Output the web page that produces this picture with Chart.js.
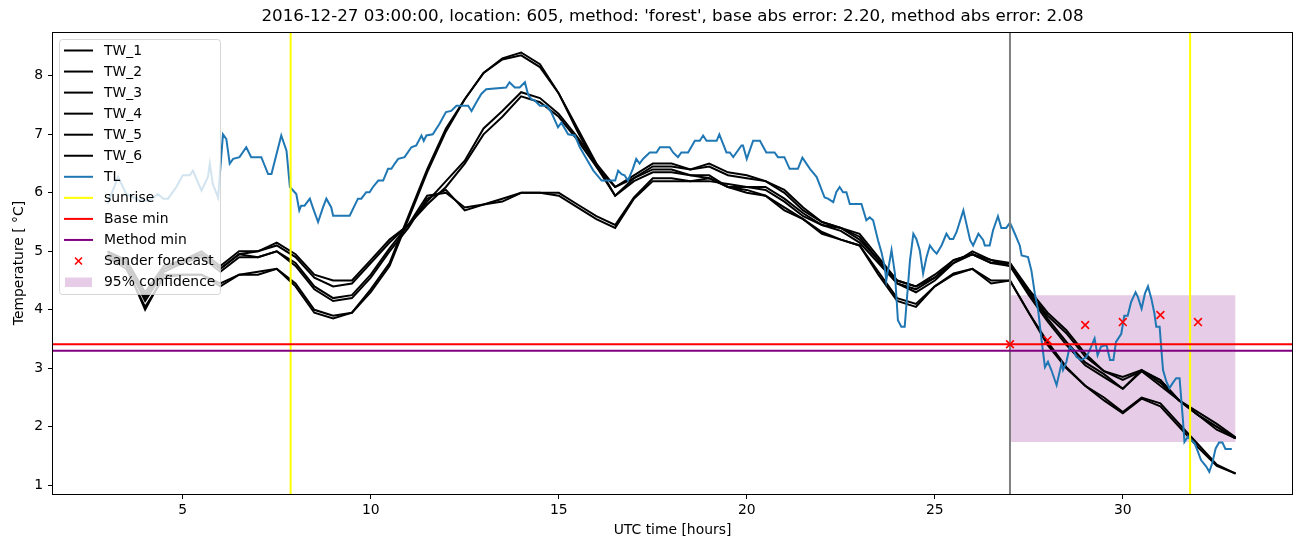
<!DOCTYPE html>
<html>
<head>
<meta charset="utf-8">
<script src="https://cdn.jsdelivr.net/npm/chart.js@4.4.0/dist/chart.umd.min.js"></script>
<style>
  html, body { margin: 0; padding: 0; background: #fff; }
  #wrap { width: 1302px; height: 547px; position: relative; }
</style>
</head>
<body>
<div id="wrap"><canvas id="chart"></canvas></div>
<script>
// ── Data ──────────────────────────────────────────────────────
const FONT = '"DejaVu Sans", Verdana, sans-serif';

const titleText = "2016-12-27 03:00:00, location: 605, method: 'forest', base abs error: 2.20, method abs error: 2.08";
const xLabel = 'UTC time [hours]';
const yLabel = 'Temperature [ °C]';

const xTicks = [5, 10, 15, 20, 25, 30];
const yTicks = [1, 2, 3, 4, 5, 6, 7, 8];
const xMin = 1.55, xMax = 34.5;
const yMin = 0.85, yMax = 8.75;

// half-hourly road temperature model runs (TW_1..TW_6)
const twHours = [3, 3.5, 4, 4.5, 5, 5.5, 6, 6.5, 7, 7.5, 8, 8.5, 9, 9.5, 10, 10.5, 11, 11.5, 12, 12.5,
  13, 13.5, 14, 14.5, 15, 15.5, 16, 16.5, 17, 17.5, 18, 18.5, 19, 19.5, 20, 20.5, 21, 21.5, 22, 22.5,
  23, 23.5, 24, 24.5, 25, 25.5, 26, 26.5, 27, 27.5, 28, 28.5, 29, 29.5, 30, 30.5, 31, 31.5, 32, 32.5, 33];

const tw1 = [4.95, 4.8, 4.2, 4.7, 4.8, 4.95, 4.7, 4.95, 4.9, 5.0, 4.8, 4.4, 4.2, 4.25, 4.6, 5.05, 5.45, 5.95, 6.0, 5.75,
  5.8, 5.85, 6.0, 6.0, 6.0, 5.8, 5.6, 5.45, 5.92, 6.25, 6.25, 6.2, 6.2, 6.15, 6.1, 6.1, 5.9, 5.65, 5.45, 5.4,
  5.2, 4.85, 4.45, 4.35, 4.55, 4.8, 5.0, 4.85, 4.75, 4.3, 3.85, 3.45, 3.1, 2.9, 2.65, 2.97, 2.75, 2.45, 2.2, 2.0, 1.8];
const tw2 = [4.9, 4.8, 4.15, 4.65, 4.8, 4.9, 4.65, 4.9, 4.9, 5.0, 4.75, 4.35, 4.15, 4.2, 4.55, 5.0, 5.4, 5.9, 6.05, 5.7,
  5.8, 5.9, 6.0, 6.0, 5.95, 5.75, 5.55, 5.4, 5.9, 6.2, 6.2, 6.2, 6.25, 6.1, 6.1, 6.05, 5.85, 5.6, 5.45, 5.35,
  5.15, 4.8, 4.45, 4.3, 4.5, 4.8, 4.95, 4.8, 4.75, 4.25, 3.8, 3.4, 3.05, 2.85, 2.65, 2.95, 2.7, 2.45, 2.2, 1.95, 1.8];
const tw3 = [5.0, 4.85, 4.3, 4.75, 4.85, 5.0, 4.75, 5.0, 5.0, 5.15, 4.95, 4.6, 4.5, 4.5, 4.85, 5.2, 5.45, 5.85, 6.2, 6.55,
  7.1, 7.4, 7.72, 7.62, 7.35, 6.95, 6.5, 6.1, 6.3, 6.5, 6.5, 6.4, 6.5, 6.35, 6.3, 6.2, 6.05, 5.75, 5.5, 5.4,
  5.3, 4.9, 4.5, 4.4, 4.6, 4.85, 4.95, 4.85, 4.8, 4.35, 3.95, 3.65, 3.25, 2.95, 2.85, 2.97, 2.8, 2.45, 2.25, 2.05, 1.82];
const tw4 = [5.0, 4.8, 4.25, 4.7, 4.85, 4.95, 4.7, 4.95, 5.0, 5.1, 4.9, 4.55, 4.4, 4.45, 4.8, 5.15, 5.45, 5.8, 6.1, 6.5,
  7.0, 7.3, 7.65, 7.55, 7.3, 6.9, 6.45, 6.1, 6.25, 6.45, 6.45, 6.4, 6.45, 6.3, 6.25, 6.2, 6.0, 5.7, 5.5, 5.4,
  5.25, 4.85, 4.5, 4.4, 4.55, 4.85, 4.95, 4.8, 4.8, 4.3, 3.9, 3.6, 3.2, 2.95, 2.8, 2.95, 2.8, 2.45, 2.2, 2.0, 1.8];
const tw5 = [4.9, 4.7, 4.05, 4.55, 4.6, 4.6, 4.45, 4.6, 4.65, 4.7, 4.45, 4.0, 3.9, 3.95, 4.3, 4.75, 5.55, 6.35, 7.05, 7.6,
  8.05, 8.28, 8.35, 8.15, 7.7, 7.1, 6.5, 5.95, 6.2, 6.35, 6.35, 6.3, 6.25, 6.1, 6.0, 5.95, 5.7, 5.55, 5.33, 5.2,
  5.1, 4.65, 4.2, 4.1, 4.4, 4.62, 4.7, 4.45, 4.5, 3.95, 3.45, 3.02, 2.7, 2.45, 2.23, 2.48, 2.35, 2.0, 1.65, 1.33, 1.2];
const tw6 = [4.9, 4.75, 4.0, 4.6, 4.6, 4.6, 4.4, 4.6, 4.6, 4.7, 4.4, 3.95, 3.85, 3.95, 4.35, 4.8, 5.6, 6.4, 7.1, 7.6,
  8.05, 8.3, 8.4, 8.2, 7.7, 7.05, 6.45, 5.95, 6.25, 6.4, 6.4, 6.3, 6.3, 6.1, 6.05, 5.95, 5.75, 5.55, 5.3, 5.2,
  5.1, 4.6, 4.15, 4.05, 4.4, 4.6, 4.7, 4.5, 4.5, 3.95, 3.4, 3.0, 2.7, 2.5, 2.25, 2.5, 2.4, 2.05, 1.7, 1.35, 1.2];

// air temperature TL, read at its turning points
const tlHours = [3.0, 3.28, 3.5, 3.86, 4.12, 4.34, 4.48, 4.61, 4.83, 5.0, 5.19, 5.27, 5.5, 5.67, 5.72, 5.8, 5.94,
  6.07, 6.16, 6.25, 6.34, 6.51, 6.69, 6.82, 7.09, 7.27, 7.36, 7.62, 7.76, 7.85, 8.02, 8.1, 8.15, 8.24, 8.38,
  8.47, 8.6, 8.73, 8.82, 8.95, 9.0, 9.44, 9.66, 9.75, 9.88, 9.97, 10.06, 10.2, 10.33, 10.46, 10.55, 10.64,
  10.73, 10.9, 11.08, 11.21, 11.35, 11.41, 11.48, 11.65, 11.83, 12.0, 12.14, 12.28, 12.59, 12.68, 12.81,
  12.94, 13.07, 13.6, 13.69, 13.83, 13.96, 14.1, 14.18, 14.27, 14.36, 14.5, 14.67, 14.8, 14.98, 15.07,
  15.25, 15.43, 15.56, 15.74, 15.92, 16.14, 16.5, 16.58, 16.67, 16.75, 16.84, 16.97, 17.06, 17.15, 17.24,
  17.42, 17.6, 17.69, 17.95, 18.04, 18.17, 18.26, 18.44, 18.62, 18.75, 18.84, 18.93, 19.2, 19.27, 19.46,
  19.55, 19.64, 19.86, 19.9, 20.0, 20.17, 20.35, 20.52, 20.74, 20.83, 21.0, 21.14, 21.36, 21.48, 21.68,
  21.86, 22.07, 22.16, 22.3, 22.38, 22.47, 22.56, 22.65, 22.74, 23.05, 23.18, 23.27, 23.36, 23.49, 23.58,
  23.67, 23.71, 23.85, 23.94, 24.02, 24.11, 24.2, 24.34, 24.43, 24.51, 24.6, 24.69, 24.78, 24.87, 24.96,
  25.05, 25.18, 25.31, 25.4, 25.49, 25.58, 25.76, 25.94, 26.02, 26.16, 26.29, 26.33, 26.46, 26.55, 26.68,
  26.77, 26.9, 27.0, 27.13, 27.26, 27.31, 27.48, 27.57, 27.66, 27.75, 27.84, 27.93, 28.01, 28.1, 28.24,
  28.37, 28.41, 28.5, 28.59, 28.68, 28.77, 28.9, 29.03, 29.12, 29.25, 29.33, 29.42, 29.51, 29.57, 29.66,
  29.75, 29.82, 29.96, 30.04, 30.13, 30.22, 30.34, 30.4, 30.5, 30.59, 30.67, 30.76, 30.84, 30.89, 30.98,
  31.02, 31.07, 31.16, 31.24, 31.33, 31.42, 31.51, 31.55, 31.6, 31.64, 31.73, 31.82, 31.91, 32.0, 32.08,
  32.22, 32.3, 32.38, 32.47, 32.56, 32.65, 32.73, 32.9];
const tlTemp = [5.81, 6.27, 5.98, 5.87, 5.87, 5.98, 5.9, 5.9, 6.1, 6.3, 6.3, 6.38, 6.04, 6.27, 6.5, 6.15, 5.92,
  7.0, 6.92, 6.5, 6.58, 6.61, 6.78, 6.61, 6.61, 6.32, 6.32, 6.98, 6.72, 6.1, 5.98, 5.7, 5.78, 5.78, 5.9,
  5.73, 5.5, 5.75, 5.9, 5.75, 5.61, 5.61, 5.9, 5.9, 6.01, 6.01, 6.1, 6.21, 6.21, 6.41, 6.41, 6.5,
  6.58, 6.61, 6.78, 6.81, 6.98, 6.89, 6.98, 7.0, 7.18, 7.38, 7.4, 7.49, 7.49, 7.4, 7.55,
  7.69, 7.77, 7.8, 7.89, 7.8, 7.8, 7.89, 7.69, 7.6, 7.58, 7.49, 7.49, 7.38, 7.12, 7.2,
  7.0, 6.98, 6.78, 6.58, 6.38, 6.21, 6.21, 6.38, 6.32, 6.3, 6.21, 6.41, 6.58, 6.5, 6.58,
  6.69, 6.69, 6.78, 6.78, 6.69, 6.61, 6.69, 6.69, 6.89, 6.89, 6.98, 6.89, 6.89, 7.0, 6.69,
  6.69, 6.61, 6.81, 6.81, 6.58, 6.89, 6.89, 6.69, 6.69, 6.61, 6.61, 6.41, 6.41, 6.6, 6.41,
  6.27, 5.92, 5.9, 5.84, 6.01, 6.1, 6.01, 6.01, 5.81, 5.81, 5.53, 5.58, 5.53, 5.19, 4.99,
  4.73, 4.5, 5.02, 4.62, 3.82, 3.71, 3.71, 4.84, 5.3, 5.21, 5.02, 4.62, 4.9, 5.1, 5.02,
  4.96, 5.1, 5.3, 5.21, 5.21, 5.33, 5.7, 5.19, 5.1, 5.3, 5.19, 5.1, 5.1, 5.36, 5.6,
  5.4, 5.4, 5.49, 5.3, 5.1, 4.93, 4.9, 4.67, 4.28, 3.99, 3.48, 3.02, 3.11, 2.97, 2.71,
  3.08, 2.97, 3.11, 3.37, 3.31, 3.19, 3.14, 3.19, 3.31, 3.51, 3.22, 3.37, 3.39, 3.39, 3.14,
  3.14, 3.45, 3.59, 3.9, 3.9, 4.13, 4.3, 4.22, 4.02, 4.28, 4.4, 4.19, 3.94, 3.71, 3.71,
  3.37, 2.97, 2.77, 2.66, 2.75, 2.83, 2.83, 2.51, 2.11, 1.74, 1.83, 1.77, 1.72, 1.57, 1.43,
  1.32, 1.23, 1.38, 1.63, 1.73, 1.73, 1.62, 1.62];

const sunriseHours = [7.87, 31.79];
const forecastStart = 27.0;
const baseMin = 3.41;
const methodMin = 3.30;

const sanderHours = [27, 28, 29, 30, 31, 32];
const sanderTemp = [3.41, 3.48, 3.74, 3.79, 3.91, 3.79];

const confHours = [27, 33];
const confLow = 1.74;
const confHigh = 4.25;

// ── Helpers ───────────────────────────────────────────────────
const pts = (xs, ys) => xs.map((x, i) => ({ x, y: ys[i] }));
const vline = x => [{ x, y: yMin }, { x, y: yMax }];
const hline = y => [{ x: xMin, y }, { x: xMax, y }];

const lineDs = (label, data, color, order) => ({
  label, data, order,
  borderColor: color,
  borderWidth: 2,
  pointRadius: 0,
  tension: 0,
  fill: false,
});

const datasets = [
  // confidence band, lowest layer
  { label: 'confLow', data: confHours.map(x => ({ x, y: confLow })), borderWidth: 0, pointRadius: 0, fill: false, order: 100 },
  { label: '95% confidence', data: confHours.map(x => ({ x, y: confHigh })), borderWidth: 0, pointRadius: 0,
    fill: '-1', backgroundColor: 'rgba(128,0,128,0.2)', order: 99 },
  lineDs('TW_1', pts(twHours, tw1), '#000000', 90),
  lineDs('TW_2', pts(twHours, tw2), '#000000', 89),
  lineDs('TW_3', pts(twHours, tw3), '#000000', 88),
  lineDs('TW_4', pts(twHours, tw4), '#000000', 87),
  lineDs('TW_5', pts(twHours, tw5), '#000000', 86),
  lineDs('TW_6', pts(twHours, tw6), '#000000', 85),
  lineDs('TL', pts(tlHours, tlTemp), '#1f77b4', 80),
  lineDs('sunrise', vline(sunriseHours[0]), '#ffff00', 70),
  lineDs('sunrise2', vline(sunriseHours[1]), '#ffff00', 70),
  lineDs('now', vline(forecastStart), '#808080', 69),
  lineDs('Base min', hline(baseMin), '#ff0000', 60),
  lineDs('Method min', hline(methodMin), '#800080', 59),
  {
    label: 'Sander forecast', data: pts(sanderHours, sanderTemp), order: 50,
    showLine: false, pointStyle: 'crossRot', pointRadius: 5.5,
    pointBorderColor: '#ff0000', pointBorderWidth: 1.6, pointBackgroundColor: '#ff0000',
  },
];

// ── Legend / frame / text overlay ─────────────────────────────
const legendItems = [
  { label: 'TW_1', kind: 'line', color: '#000000' },
  { label: 'TW_2', kind: 'line', color: '#000000' },
  { label: 'TW_3', kind: 'line', color: '#000000' },
  { label: 'TW_4', kind: 'line', color: '#000000' },
  { label: 'TW_5', kind: 'line', color: '#000000' },
  { label: 'TW_6', kind: 'line', color: '#000000' },
  { label: 'TL', kind: 'line', color: '#1f77b4' },
  { label: 'sunrise', kind: 'line', color: '#ffff00' },
  { label: 'Base min', kind: 'line', color: '#ff0000' },
  { label: 'Method min', kind: 'line', color: '#800080' },
  { label: 'Sander forecast', kind: 'cross', color: '#ff0000' },
  { label: '95% confidence', kind: 'patch', color: 'rgba(128,0,128,0.2)' },
];

function roundRect(ctx, x, y, w, h, r) {
  ctx.beginPath();
  ctx.moveTo(x + r, y);
  ctx.arcTo(x + w, y, x + w, y + h, r);
  ctx.arcTo(x + w, y + h, x, y + h, r);
  ctx.arcTo(x, y + h, x, y, r);
  ctx.arcTo(x, y, x + w, y, r);
  ctx.closePath();
}

const overlay = {
  id: 'overlay',
  afterDraw(chart) {
    const { ctx, chartArea: ca } = chart;
    ctx.save();

    // frame (all four spines)
    ctx.strokeStyle = '#000';
    ctx.lineWidth = 1;
    ctx.strokeRect(Math.round(ca.left) - 0.5, Math.round(ca.top) + 0.5,
      Math.round(ca.right - ca.left) + 1, Math.round(ca.bottom - ca.top));

    // legend
    roundRect(ctx, 59.5, 39.5, 161, 255, 3);
    ctx.fillStyle = 'rgba(255,255,255,0.8)';
    ctx.fill();
    ctx.strokeStyle = 'rgba(204,204,204,0.8)';
    ctx.lineWidth = 1;
    ctx.stroke();

    ctx.font = '13.9px ' + FONT;
    ctx.textBaseline = 'middle';
    ctx.textAlign = 'left';
    legendItems.forEach((it, i) => {
      const y = 50.5 + i * 21.05;
      if (it.kind === 'line') {
        ctx.strokeStyle = it.color;
        ctx.lineWidth = 2;
        ctx.beginPath();
        ctx.moveTo(64, y);
        ctx.lineTo(93, y);
        ctx.stroke();
      } else if (it.kind === 'cross') {
        ctx.strokeStyle = it.color;
        ctx.lineWidth = 1.6;
        ctx.beginPath();
        ctx.moveTo(75, y - 3.5); ctx.lineTo(82, y + 3.5);
        ctx.moveTo(75, y + 3.5); ctx.lineTo(82, y - 3.5);
        ctx.stroke();
      } else {
        ctx.fillStyle = it.color;
        ctx.fillRect(65, y - 4.5, 27, 9.5);
      }
      ctx.fillStyle = '#000';
      ctx.fillText(it.label, 104, y + 0.5);
    });

    // title and axis labels
    ctx.fillStyle = '#000';
    ctx.textAlign = 'center';
    ctx.font = '16.7px ' + FONT;
    ctx.fillText(titleText, (ca.left + ca.right) / 2, 17);
    ctx.font = '13.9px ' + FONT;
    ctx.fillText(xLabel, (ca.left + ca.right) / 2, 530);
    ctx.translate(19, (ca.top + ca.bottom) / 2);
    ctx.rotate(-Math.PI / 2);
    ctx.fillText(yLabel, 0, 0);
    ctx.restore();
  }
};

// ── Chart ─────────────────────────────────────────────────────
const tickFont = { size: 13.9, family: FONT };

new Chart(document.getElementById('chart').getContext('2d'), {
  type: 'line',
  data: { datasets },
  plugins: [overlay],
  options: {
    responsive: true,
    maintainAspectRatio: false,
    devicePixelRatio: 1,
    animation: false,
    events: [],
    layout: { padding: { top: 32, right: 10, bottom: 0, left: 0 } },
    plugins: {
      legend: { display: false },
      title: { display: false },
      tooltip: { enabled: false },
    },
    scales: {
      x: {
        type: 'linear',
        min: xMin, max: xMax,
        afterBuildTicks: s => { s.ticks = xTicks.map(v => ({ value: v })); },
        afterFit: s => { s.height = 53; },
        border: { display: false },
        grid: { drawOnChartArea: false, drawTicks: true, tickLength: 5, tickColor: '#000', tickWidth: 1 },
        ticks: { color: '#000', font: tickFont, padding: 3, maxRotation: 0 },
      },
      y: {
        type: 'linear',
        min: yMin, max: yMax,
        afterBuildTicks: s => { s.ticks = yTicks.map(v => ({ value: v })); },
        afterFit: s => { s.width = 53; },
        border: { display: false },
        grid: { drawOnChartArea: false, drawTicks: true, tickLength: 5, tickColor: '#000', tickWidth: 1 },
        ticks: { color: '#000', font: tickFont, padding: 5 },
      }
    }
  }
});
</script>
</body>
</html>
